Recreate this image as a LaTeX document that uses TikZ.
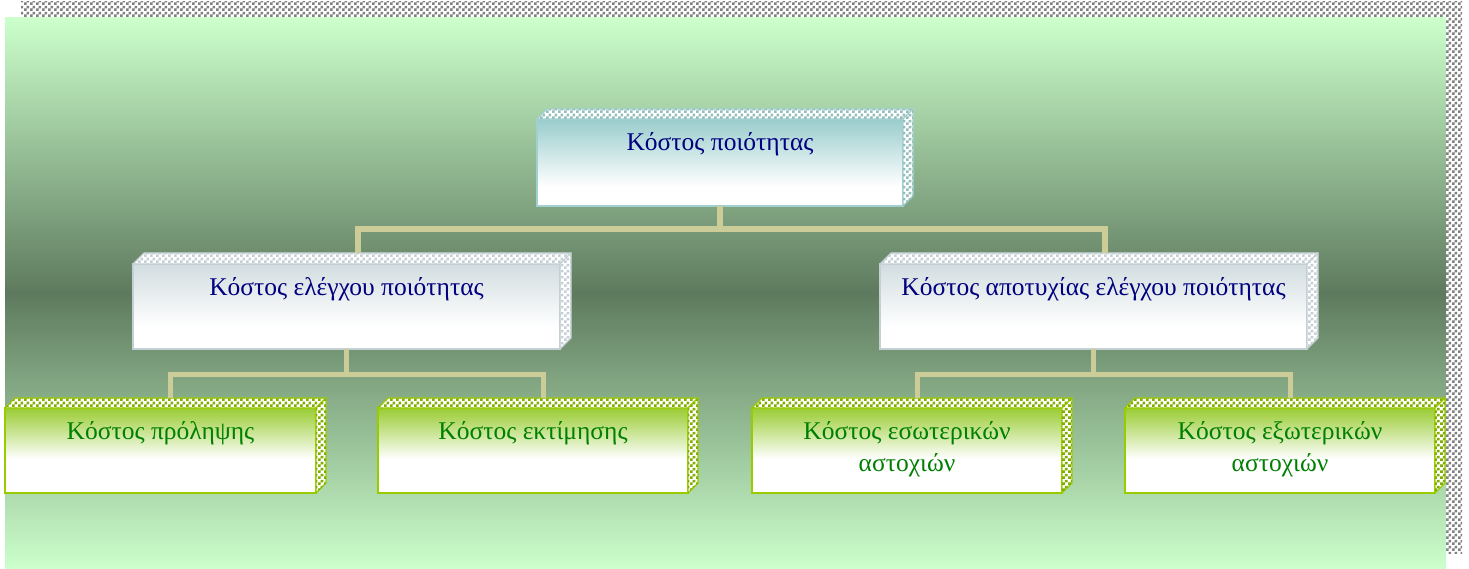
\documentclass[tikz,border=0pt]{standalone}
\usepackage{fontspec}
\setmainfont{Liberation Serif}
\usetikzlibrary{calc,patterns}
\pgfdeclarepatternformonly{checkthree}{\pgfqpoint{0pt}{0pt}}{\pgfqpoint{6pt}{6pt}}{\pgfqpoint{6pt}{6pt}}{%
 \pgfpathrectangle{\pgfpointorigin}{\pgfqpoint{3pt}{3pt}}%
 \pgfpathrectangle{\pgfqpoint{3pt}{3pt}}{\pgfqpoint{3pt}{3pt}}%
 \pgfusepath{fill}}
\definecolor{bglight}{RGB}{204,255,204}
\definecolor{bgdark}{RGB}{94,122,94}
\definecolor{conncol}{RGB}{204,204,153}
\definecolor{navytext}{RGB}{0,0,128}
\definecolor{greentext}{RGB}{0,128,0}
\definecolor{tealtop}{RGB}{153,204,204}
\definecolor{tealborder}{RGB}{160,208,208}
\definecolor{greytop}{RGB}{210,221,224}
\definecolor{greyborder}{RGB}{196,208,212}
\definecolor{greentop}{RGB}{153,204,51}
\definecolor{greenborder}{RGB}{153,204,0}
\definecolor{shadowgrey}{RGB}{128,128,128}
\pgfdeclareverticalshading{bgshade}{100bp}{color(0bp)=(bglight); color(25bp)=(bglight); color(50bp)=(bgdark); color(75bp)=(bglight); color(100bp)=(bglight)}
\pgfdeclareverticalshading{tealshade}{100bp}{color(0bp)=(white); color(25bp)=(white); color(36bp)=(white); color(75bp)=(tealtop); color(100bp)=(tealtop)}
\pgfdeclareverticalshading{greyshade}{100bp}{color(0bp)=(white); color(25bp)=(white); color(38bp)=(white); color(75bp)=(greytop); color(100bp)=(greytop)}
\pgfdeclareverticalshading{greenshade}{100bp}{color(0bp)=(white); color(25bp)=(white); color(45bp)=(white); color(60bp)=(greentop!50!white); color(75bp)=(greentop); color(100bp)=(greentop)}
\tikzset{
 conn/.style={draw=conncol, line width=6pt, line join=miter},
 conntwo/.style={draw=conncol, line width=5pt, line join=miter},
 frontface/.style={rectangle, inner sep=0pt, outer sep=0pt, line width=1.6pt},
 tealbox/.style={frontface, shading=tealshade, draw=tealborder},
 tealboxside/.style={fill=white, postaction={pattern=checkthree, pattern color=tealtop!80!gray}, draw=tealborder, line width=1.2pt, line join=round},
 greybox/.style={frontface, shading=greyshade, draw=greyborder},
 greyboxside/.style={fill=white, postaction={pattern=checkthree, pattern color=greyborder}, draw=greyborder, line width=1.2pt, line join=round},
 greenbox/.style={frontface, shading=greenshade, draw=greenborder},
 greenboxside/.style={fill=white, postaction={pattern=checkthree, pattern color=greenborder!85!black}, draw=greenborder, line width=1.2pt, line join=round},
 boxtext/.style={font=\fontsize{25.5}{32}\selectfont, align=center, anchor=base, inner sep=0pt},
 bluetext/.style={boxtext, text=navytext},
 greenlabel/.style={boxtext, text=greentext},
}
\newcommand\cubebox[7]{%
 \node[#7, minimum width={(#4-#2)*1pt}, minimum height={(#5-#3)*1pt}] (#1) at ({(#2+#4)/2},{(#3+#5)/2}) {};
 \path[#7side] (#1.north west) -- ++(#6,-#6) -- ($(#1.north east)+(#6,-#6)$) -- (#1.north east) -- cycle;
 \path[#7side] (#1.north east) -- ++(#6,-#6) -- ($(#1.south east)+(#6,-#6)$) -- (#1.south east) -- cycle;
}
\begin{document}
\begin{tikzpicture}[x=1pt,y=-1pt]
\useasboundingbox (0,0) rectangle (1469,569);
\fill[white] (0,0) rectangle (1469,569);
% shadow and background panel
\fill[pattern=checkthree, pattern color=shadowgrey] (21,2) rectangle (1462,553);
\shade[shading=bgshade] (5,18) rectangle (1446,568);
% boxes
\cubebox{top}{537}{119}{903}{206}{10}{tealbox}
\cubebox{ctrl}{133}{264}{560}{349}{11}{greybox}
\cubebox{fail}{880}{264}{1307}{349}{11}{greybox}
\cubebox{prev}{5}{408}{316}{493}{10}{greenbox}
\cubebox{eval}{378}{408}{688}{493}{10}{greenbox}
\cubebox{intl}{752}{408}{1062}{493}{10}{greenbox}
\cubebox{extl}{1125}{408}{1435}{493}{10}{greenbox}
% connectors
\draw[conn] (top.south) -- ++(0,23) -| ($(ctrl.north)+(11,-11)$);
\draw[conn] (top.south) -- ++(0,23) -| ($(fail.north)+(11,-11)$);
\draw[conntwo] (ctrl.south) -- ++(0,25) -| ($(prev.north)+(10,-10)$);
\draw[conntwo] (ctrl.south) -- ++(0,25) -| ($(eval.north)+(10,-10)$);
\draw[conntwo] (fail.south) -- ++(0,25) -| ($(intl.north)+(10,-10)$);
\draw[conntwo] (fail.south) -- ++(0,25) -| ($(extl.north)+(10,-10)$);
% texts (base anchor = baseline of the last line)
\node[bluetext] (ttop) at ($(top.north)+(0,32)$) {Κόστος ποιότητας};
\node[bluetext] (tctrl) at ($(ctrl.north)+(0,31)$) {Κόστος ελέγχου ποιότητας};
\node[bluetext] (tfail) at ($(fail.north)+(0,31)$) {Κόστος αποτυχίας ελέγχου ποιότητας};
\node[greenlabel] (tprev) at ($(prev.north)+(0,31)$) {Κόστος πρόληψης};
\node[greenlabel] (teval) at ($(eval.north)+(0,31)$) {Κόστος εκτίμησης};
\node[greenlabel] (tintl) at ($(intl.north)+(0,63)$) {Κόστος εσωτερικών\\αστοχιών};
\node[greenlabel] (textl) at ($(extl.north)+(0,63)$) {Κόστος εξωτερικών\\αστοχιών};
\end{tikzpicture}
\end{document}
